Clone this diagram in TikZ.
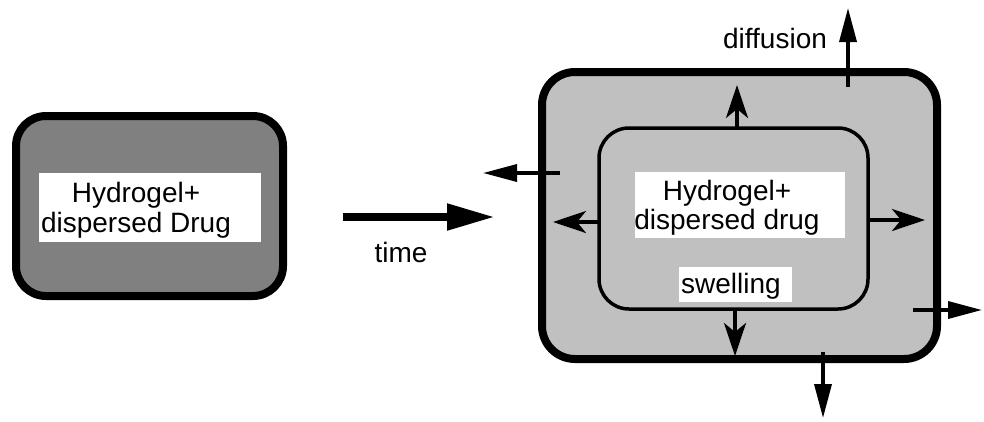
\documentclass[tikz,border=0pt]{standalone}
\usepackage{fontspec}
\setmainfont{Liberation Sans}
\usetikzlibrary{arrows.meta}
\definecolor{gelgray}{HTML}{808080}
\definecolor{swollen}{HTML}{C0C0C0}
\tikzset{
  shell/.style={draw=black, rounded corners=#1, inner sep=0pt},
  whitebox/.style={fill=white, inner sep=0pt},
  caption/.style={font=\fontsize{28}{29.5}\selectfont, align=center, inner sep=0pt},
  releasearrow/.style={line width=3.5pt, -{Triangle[length=34pt, width=17pt]}},
  swellarrow/.style={line width=3.5pt, -{Stealth[length=33pt, width=22pt, inset=9pt]}},
}
\begin{document}
\begin{tikzpicture}[x=1pt, y=-1pt]
\useasboundingbox (0,0) rectangle (984,421);

% initial hydrogel matrix
\node[shell=30pt, line width=8pt, fill=gelgray, minimum width=267pt, minimum height=180pt] (dry) at (149.5,206) {};
\node[whitebox, minimum width=222pt, minimum height=69pt] (drybox) at (150,207.5) {};
\node[caption] (drytext) at (136,210.5) {Hydrogel+\\dispersed Drug};

% time arrow
\coordinate (t0) at (343,217);
\coordinate (t1) at (495,217);
\draw[line width=8pt, -{Triangle[length=48pt, width=25pt]}] (t0) -- (t1);
\node[caption, anchor=base] (time) at (401,262) {time};

% swollen hydrogel
\node[shell=33pt, line width=8pt, fill=swollen, minimum width=395pt, minimum height=287pt] (outer) at (739.5,215.5) {};
\node[shell=30pt, line width=3.5pt, minimum width=269pt, minimum height=181pt] (inner) at (733.5,218.5) {};
\node[whitebox, minimum width=210pt, minimum height=66pt] (wetbox) at (740,205) {};
\node[caption] (wettext) at (727,208) {Hydrogel+\\dispersed drug};
\node[whitebox, minimum width=113pt, minimum height=35pt] (swbox) at (735.5,284.5) {};
\node[caption, anchor=base] (swelling) at (731,293) {swelling};

% swelling front arrows
\coordinate (su0) at (737,128);  \coordinate (su1) at (737,85);
\coordinate (sd0) at (735,309);  \coordinate (sd1) at (735,356);
\coordinate (sl0) at (599,222);  \coordinate (sl1) at (553,222);
\coordinate (sr0) at (868,220);  \coordinate (sr1) at (925,220);
\draw[swellarrow] (su0) -- (su1);
\draw[swellarrow] (sd0) -- (sd1);
\draw[swellarrow] (sl0) -- (sl1);
\draw[swellarrow] (sr0) -- (sr1);

% drug release by diffusion
\coordinate (du0) at (848,87);   \coordinate (du1) at (848,8);
\coordinate (dl0) at (560,173);  \coordinate (dl1) at (483,173);
\coordinate (dr0) at (913,310);  \coordinate (dr1) at (982,310);
\coordinate (dd0) at (823,352);  \coordinate (dd1) at (823,418);
\draw[releasearrow] (du0) -- (du1);
\draw[releasearrow] (dl0) -- (dl1);
\draw[releasearrow] (dr0) -- (dr1);
\draw[releasearrow] (dd0) -- (dd1);
\node[caption, anchor=base] (diffusion) at (775,48) {diffusion};
\end{tikzpicture}
\end{document}
